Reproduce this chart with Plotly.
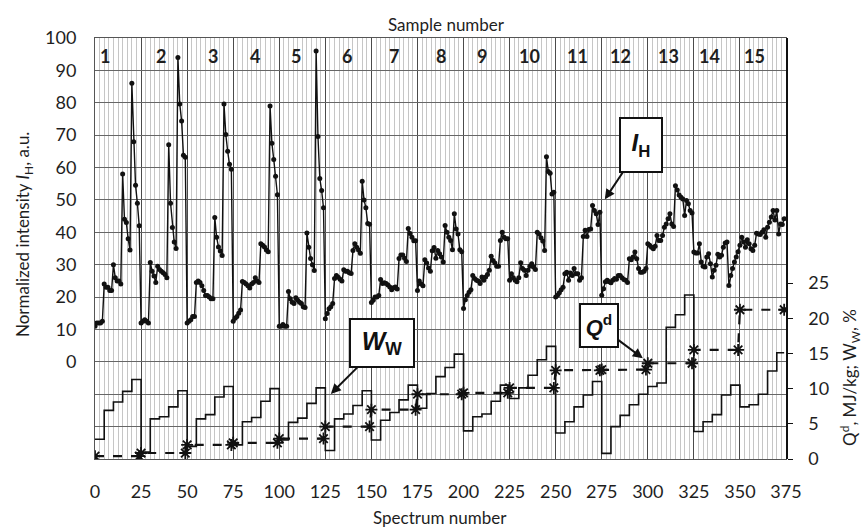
import plotly.graph_objects as go

# ---------------- data ----------------
sample_names = [str(i) for i in range(1, 16)]
spectra_per_sample = 25
group_size = 5

ih_s1 = [11, 12, 12, 12, 12.5, 24, 23, 23, 22, 22, 30, 26, 25, 25, 24, 58, 44, 43, 38, 34.5, 86, 68, 54.5, 49, 42]
ih_s2 = [12, 12.5, 13, 12.5, 12, 30.7, 28, 26.5, 24.5, 29.5, 28.5, 28, 27.5, 27, 26, 67, 49, 41.5, 37, 35, 94, 79.6, 74.4, 63.8, 63.2]
ih_s3 = [12, 12.5, 13, 14, 14, 24.5, 25, 24.5, 23.5, 22, 20.5, 20.5, 20, 19.5, 19.5, 44.6, 38.5, 35.5, 34.2, 32.8, 79.6, 70.2, 65, 61, 59.5]
ih_s4 = [12.5, 13.5, 14, 15, 16, 24.8, 24.5, 24, 23.5, 22.8, 24, 24.5, 26, 25, 24.5, 36.5, 36, 35.5, 34.5, 34, 79, 67.5, 62.5, 57.3, 51.6]
ih_s5 = [11, 11, 11.5, 11, 11, 21.7, 19.5, 18.4, 18, 19.8, 19, 18.4, 18, 17, 16.8, 39.8, 35.4, 31.9, 30, 28.2, 96, 69.6, 56.6, 52.9, 47.6]
ih_s6 = [13.3, 14.9, 16.4, 17, 18, 25.7, 26.7, 26.1, 25.5, 25, 28.4, 28, 28, 27.5, 27.3, 34.4, 36.5, 35.4, 34.5, 33.5, 55.8, 50, 47.6, 42.7, 42.5]
ih_s7 = [18.3, 19, 20, 20, 20.5, 25.4, 24.2, 24.4, 24.2, 23.7, 23.1, 22.3, 22.9, 23.1, 22.5, 31.9, 33, 33, 32, 31, 41.2, 39.6, 38.5, 37.4, 37.4]
ih_s8 = [22, 25, 24, 23.5, 31.5, 30.5, 29, 28, 34.3, 35.3, 32, 34.4, 33.4, 32.4, 30.8, 42.1, 40, 38.5, 37.5, 34.6, 45.7, 41, 39.5, 34.6, 34]
ih_s9 = [16.5, 19.2, 20.5, 21.5, 22.3, 26.7, 25.7, 25.2, 25, 24.2, 26.2, 25.2, 26.2, 27, 28.3, 32.6, 31.3, 30.5, 29.5, 29.5, 37.5, 40, 38.5, 38, 38]
ih_s10 = [25.2, 27.2, 26, 25.2, 24.7, 26, 30.6, 28.8, 28.3, 26.7, 28.3, 29.5, 30.3, 29.3, 28.5, 40, 39.5, 38.3, 37.3, 34.4, 63.3, 58.8, 58.2, 51.8, 52.4]
ih_s11 = [20, 20.6, 21.3, 22.3, 23, 27.2, 27.7, 25.2, 27.4, 26.7, 28.8, 27.2, 27.2, 25.2, 26, 38.7, 40.6, 38.7, 40.9, 41, 48.3, 46.7, 45.7, 42.4, 46.2]
ih_s12 = [20.6, 22.6, 24.7, 25.2, 24.7, 24.4, 25.2, 25.7, 25.5, 26.7, 26.7, 26, 25.4, 25.2, 24.5, 31.8, 31.5, 32.4, 33.9, 31.8, 28.8, 27.7, 27.7, 28, 28.8]
ih_s13 = [36.5, 36, 35.4, 34.9, 35.7, 39, 37.5, 37.5, 39, 41.6, 42.6, 44.2, 45.7, 42.6, 41.8, 54.4, 53.1, 51.5, 50.8, 50.3, 45.2, 49.8, 48.8, 46.7, 46]
ih_s14 = [33.9, 33.6, 33.6, 36.5, 30.8, 29.5, 29.3, 32.4, 33.4, 30.3, 26.2, 28.3, 29.8, 33.2, 32.4, 32.9, 35.4, 36.7, 37, 23.6, 26.7, 28.8, 30.8, 32.4, 34]
ih_s15 = [36, 38.5, 37, 35.4, 37.7, 36.5, 34.9, 34.4, 36, 39.7, 39.5, 39.3, 40, 40.8, 38.5, 41.6, 43.1, 44.7, 46.7, 43.8, 46.7, 39.5, 42.6, 42.4, 44.2]

# W_W step levels: one value per group of 5 spectra in each sample
ww_s1 = [2.8, 6.9, 8.1, 9.6, 11.3]
ww_s2 = [1.0, 5.7, 6.0, 7.4, 9.7]
ww_s3 = [1.8, 5.7, 6.3, 8.8, 10.3]
ww_s4 = [2.0, 5.3, 5.9, 8.2, 10.0]
ww_s5 = [2.7, 5.2, 5.8, 7.9, 10.1]
ww_s6 = [1.2, 5.7, 6.4, 7.6, 9.7]
ww_s7 = [2.7, 5.5, 6.6, 8.4, 10.5]
ww_s8 = [7.2, 9.3, 11.7, 13.0, 14.9]
ww_s9 = [4.0, 6.0, 6.4, 8.2, 10.5]
ww_s10 = [8.6, 10.1, 11.9, 14.1, 16.0]
ww_s11 = [3.7, 5.3, 7.4, 9.1, 11.0]
ww_s12 = [0.8, 4.6, 6.2, 7.7, 9.2]
ww_s13 = [10.3, 10.8, 18.7, 20.5, 23.3]
ww_s14 = [3.9, 5.3, 6.3, 9.1, 10.5]
ww_s15 = [7.4, 7.7, 9.2, 12.5, 15.1]

# Q^d per sample
qd_sample = [0.4, 0.85, 2.0, 2.3, 2.9, 4.6, 7.0, 9.2, 9.4, 10.1, 12.6, 12.7, 13.6, 15.5, 21.2]

left_ticks = list(range(0, 101, 10))
right_ticks = [0, 5, 10, 15, 20, 25]
x_ticks = list(range(0, 376, 25))

# ---------------- build series ----------------
ih_samples = [ih_s1, ih_s2, ih_s3, ih_s4, ih_s5, ih_s6, ih_s7, ih_s8, ih_s9, ih_s10,
              ih_s11, ih_s12, ih_s13, ih_s14, ih_s15]
ww_samples = [ww_s1, ww_s2, ww_s3, ww_s4, ww_s5, ww_s6, ww_s7, ww_s8, ww_s9, ww_s10,
              ww_s11, ww_s12, ww_s13, ww_s14, ww_s15]

ih = [v for s in ih_samples for v in s]
spectrum = list(range(len(ih)))
ww = [lvl for s in ww_samples for lvl in s for _ in range(group_size)]

qd_x, qd_y = [], []
for k, q in enumerate(qd_sample):
    qd_x += [k * spectra_per_sample, (k + 1) * spectra_per_sample - 1]
    qd_y += [q, q]

FONT = "Lato, 'Open Sans', sans-serif"
TXT = "#1e1e1e"

fig = go.Figure()
fig.add_trace(go.Scatter(x=spectrum, y=ww, mode="lines", line=dict(color="#111", width=1.6, shape="hv"),
                         yaxis="y2", hoverinfo="skip"))
fig.add_trace(go.Scatter(x=qd_x, y=qd_y, mode="lines+markers", yaxis="y2",
                         line=dict(color="#111", width=2.2, dash="dash"),
                         marker=dict(symbol="asterisk-open", size=10, color="#111",
                                     line=dict(width=1.8, color="#111"))))
fig.add_trace(go.Scatter(x=spectrum, y=ih, mode="lines+markers",
                         line=dict(color="#111", width=1.4),
                         marker=dict(symbol="circle", size=5, color="#111")))

annotations = []
# sample numbers band
label_offset = [5.4, 10.8, 14.0, 11.8, 9.1, 11.7, 12.2, 12.7, 10.0, 11.0, 12.0, 10.0, 11.5, 8.7, 8.1]
for k, name in enumerate(sample_names):
    annotations.append(dict(x=k * spectra_per_sample + label_offset[k], y=94.5, xref="x", yref="y",
                            text="<b>%s</b>" % name, showarrow=False,
                            font=dict(family=FONT, size=18, color=TXT)))

box = dict(bordercolor="#111", borderwidth=2, bgcolor="white", borderpad=1,
           showarrow=True, arrowhead=2, arrowsize=1, arrowwidth=2, arrowcolor="#111")
annotations.append(dict(x=276.7, y=50.2, xref="x", yref="y", ax=36, ay=-54,
                        text="<b><i>I</i><sub>H</sub></b>", width=38, height=50,
                        font=dict(family="Arial, 'Liberation Sans', sans-serif", size=24, color="#111"), **box))
annotations.append(dict(x=128, y=-9.9, xref="x", yref="y", ax=51, ay=-51,
                        text="<b><i>W</i><sub>W</sub></b>", width=60, height=44,
                        font=dict(family="Arial, 'Liberation Sans', sans-serif", size=25, color="#111"), **box))
annotations.append(dict(x=297.3, y=14.3, xref="x", yref="y2", ax=-44, ay=-33,
                        text="<b><i>Q</i><sup>d</sup></b>", width=34, height=39,
                        font=dict(family="Arial, 'Liberation Sans', sans-serif", size=22, color="#111"), **box))

# axis titles
annotations.append(dict(x=-0.1027, y=0.532, xref="paper", yref="paper", textangle=-90,
                        text="Normalized intensity <i>I</i><sub>H</sub>, a.u.", showarrow=False,
                        xanchor="center", yanchor="middle", font=dict(family=FONT, size=17, color=TXT)))
annotations.append(dict(x=1.0926, y=0.195, xref="paper", yref="paper", textangle=-90,
                        text="Q<sup>d</sup>, MJ/kg; W<sub>W</sub>, %", showarrow=False,
                        xanchor="center", yanchor="middle", font=dict(family=FONT, size=17, color=TXT)))
annotations.append(dict(x=0.508, y=1.031, xref="paper", yref="paper", text="Sample number",
                        showarrow=False, xanchor="center", yanchor="middle",
                        font=dict(family=FONT, size=17, color=TXT)))
annotations.append(dict(x=0.499, y=-0.140, xref="paper", yref="paper", text="Spectrum number",
                        showarrow=False, xanchor="center", yanchor="middle",
                        font=dict(family=FONT, size=17, color=TXT)))

fig.update_layout(
    width=865, height=529,
    margin=dict(l=95, r=79, t=38, b=70),
    paper_bgcolor="white", plot_bgcolor="white",
    showlegend=False,
    font=dict(family=FONT, size=18, color=TXT),
    annotations=annotations,
    xaxis=dict(range=[0, 375], tickvals=x_ticks, ticks="", showgrid=True, gridcolor="#4a4a4a", gridwidth=1,
               minor=dict(tick0=0, dtick=2.5, showgrid=True, gridcolor="#c6c6c6", gridwidth=1),
               showline=True, linecolor="#555", linewidth=1, mirror=True, zeroline=False,
               ticklabelstandoff=16, tickfont=dict(size=18)),
    yaxis=dict(range=[-30, 100], tickvals=left_ticks,
               ticks="", showgrid=True, gridcolor="#666", gridwidth=1, zeroline=False,
               minor=dict(tick0=0, dtick=10, showgrid=True, gridcolor="#666", gridwidth=1),
               showline=True, linecolor="#555", linewidth=1, mirror=True,
               ticklabelstandoff=14, tickfont=dict(size=18)),
    yaxis2=dict(range=[0, 59.8], overlaying="y", side="right", tickvals=right_ticks,
                ticks="outside", ticklen=5, tickcolor="#111", showgrid=False, zeroline=False,
                showline=True, linecolor="#111", linewidth=1.5,
                ticklabelstandoff=12, tickfont=dict(size=18)),
)

fig.write_html("out.html")
